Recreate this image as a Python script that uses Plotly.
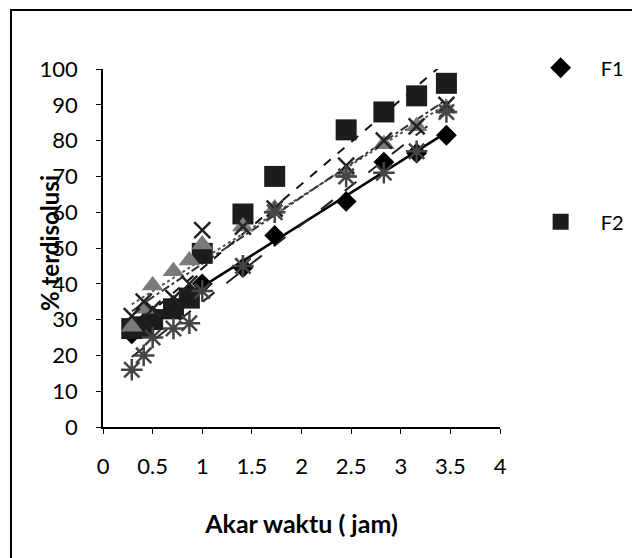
import numpy as np
import plotly.graph_objects as go

x_vals = [0.29, 0.41, 0.5, 0.71, 0.87, 1.0, 1.41, 1.73, 2.45, 2.83, 3.16, 3.46]
f1 = [26, 29, 31, 34, 37, 40, 44.5, 53.5, 63, 74, 76.5, 81.5]
f2 = [27.5, 28, 30, 33, 36, 48.5, 59.5, 70, 83, 88, 92.5, 96]
f3 = [28, 33, 39.5, 43.5, 46.5, 51, 56, 61, 71, 79, 84, 89]
f4 = [31, 35, 33, 36, 40, 55, 56, 61, 73, 80, 84, 90]
f5 = [16, 20, 25, 27.5, 29, 38, 45, 60, 70, 71, 77, 88]

names = ["F1", "F2", "F3", "F4", "F5"]
series = [f1, f2, f3, f4, f5]
symbols = ["diamond", "square", "triangle-up", "x-thin-open", "asterisk-open"]
sizes = [16, 21, 19, 16, 18]
mcolors = ["#000000", "#1c1c1c", "#7a7a7a", "#222222", "#444444"]
line_dash = ["solid", "dash", "dot", "dashdot", "longdash"]
line_col = ["#000000", "#111111", "#555555", "#333333", "#222222"]

FONT = "Lato"
fig = go.Figure()

for i, (nm, ys) in enumerate(zip(names, series)):
    m, b = np.polyfit(x_vals, ys, 1)
    xl = [min(x_vals), max(x_vals)]
    fig.add_trace(go.Scatter(
        x=xl, y=[m * v + b for v in xl], mode="lines",
        line=dict(color=line_col[i], width=2.5 if i == 0 else 2, dash=line_dash[i]),
        showlegend=False, hoverinfo="skip"))

for i, (nm, ys) in enumerate(zip(names, series)):
    mk = dict(symbol=symbols[i], size=sizes[i], color=mcolors[i])
    if "open" in symbols[i]:
        mk["line"] = dict(color=mcolors[i], width=2.5)
    fig.add_trace(go.Scatter(
        x=x_vals, y=ys, mode="markers", name=nm, marker=mk,
        showlegend=(i < 2), legendgroup=nm))

fig.update_layout(
    width=640, height=558,
    margin=dict(l=95, r=148, t=61, b=139),
    paper_bgcolor="white", plot_bgcolor="white",
    font=dict(family=FONT, size=22, color="#000"),
    xaxis=dict(range=[0, 4], dtick=0.5, showgrid=False, zeroline=False,
               showline=True, linecolor="#000", linewidth=1.5,
               ticks="outside", ticklen=5, tickcolor="#000",
               tickfont=dict(size=22), ticklabelstandoff=14,
               title=dict(text="<b>Akar waktu ( jam)</b>", font=dict(size=25), standoff=37)),
    yaxis=dict(range=[0, 100], dtick=10, showgrid=False, zeroline=False,
               showline=True, linecolor="#000", linewidth=1.5,
               ticks="outside", ticklen=5, tickcolor="#000",
               tickfont=dict(size=22), ticklabelstandoff=14),
    legend=dict(x=1.052, y=1.058, xanchor="left", yanchor="top",
                font=dict(size=20), tracegroupgap=125, itemsizing="trace",
                itemwidth=70, bgcolor="rgba(0,0,0,0)"),
    shapes=[dict(type="rect", xref="paper", yref="paper",
                 x0=-0.2317, x1=1.4, y0=-0.45, y1=1.165,
                 line=dict(color="#000", width=2), fillcolor="rgba(0,0,0,0)", layer="below")],
    annotations=[dict(text="<b>% terdisolusi</b>", xref="paper", yref="paper",
                      x=-0.1335, y=0.514, xanchor="center", yanchor="middle",
                      textangle=-90, showarrow=False,
                      font=dict(size=24))],
)

fig.write_html("out.html")
